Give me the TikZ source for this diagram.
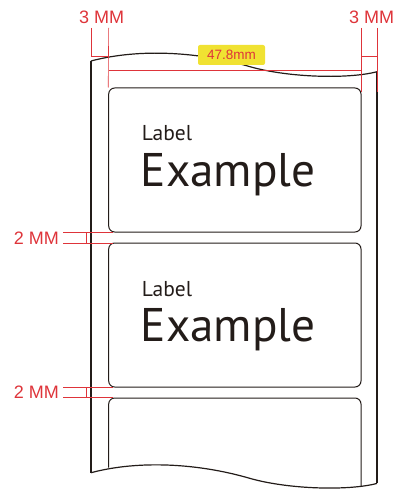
\documentclass[tikz,border=0pt]{standalone}
\usepackage{fontspec}
\setmainfont{PT Sans}
\newfontfamily\dimfont{Liberation Sans}
\definecolor{dimred}{RGB}{222, 52, 58}
\definecolor{tagyellow}{RGB}{240, 226, 50}
\definecolor{ink}{RGB}{35, 28, 25}
\usepackage{tikz}
\usetikzlibrary{positioning, calc}
\tikzset{
    labelbox/.style={rectangle, rounded corners=6pt, draw=ink, line width=1pt, minimum width=252.3pt, minimum height=144pt, inner sep=0pt},
    liner/.style={draw=ink, line width=1.2pt},
    dimline/.style={draw=dimred, line width=0.6pt},
    dimtext/.style={font=\dimfont\fontsize{18}{18}\selectfont, text=dimred, inner sep=0pt},
    small/.style={font=\fontsize{21.5}{21.5}\selectfont, text=ink, inner sep=0pt, anchor=base west},
    big/.style={font=\fontsize{47.2}{47.2}\selectfont, text=ink, inner sep=0pt, anchor=base west},
    tag/.style={rectangle, rounded corners=2pt, fill=tagyellow, text=dimred, font=\dimfont\fontsize{13.5}{13.5}\selectfont, minimum width=67pt, minimum height=20pt, inner sep=0pt}
}
\begin{document}
\begin{tikzpicture}[x=1pt, y=-1pt]
    \useasboundingbox (0,0) rectangle (406,494);
    % liner, torn top and bottom
    \foreach \dy in {0, 411.7} {
        \draw[liner, shift={(0,\dy)}] (91,61) .. controls (140,48) and (200,52) .. (250,66.7)
            .. controls (290,78) and (350,79) .. (377,71.7);
    }
    \draw[liner] (91,61) -- (91,472.7);
    \draw[liner] (377,71.7) -- (377,483.4);
    % labels
    \node[labelbox] (label1) at (234.85,160) {};
    \node[labelbox] (label2) at (234.85,315) {};
    \draw[draw=ink, line width=1pt, rounded corners=6pt] (108.7,467.5) |- (361,398) -- (361,486.7);
    \node[small] (name1) at (141.7,141) {Label};
    \node[big] (text1) at (140.7,186.7) {Example};
    \node[small] (name2) at (141.7,296) {Label};
    \node[big] (text2) at (140.7,341.7) {Example};
    % margins and width
    \draw[dimline] (91,28) -- (91,57);
    \draw[dimline] (108.7,28) -- (label1.north west);
    \draw[dimline] (361,28) -- (361,92);
    \draw[dimline] (377,28) -- (377,92);
    \draw[dimline] (91,56) -- (108.7,56);
    \draw[dimline] (361,56) -- (377,56);
    \draw[dimline] (108.7,70) -- (361,70);
    \node[dimtext] (left) at (101.7,17) {3 MM};
    \node[dimtext] (right) at (371.7,17) {3 MM};
    \node[tag] (width) at (231.5,55) {47.8mm};
    % gaps
    \foreach \y/\g in {232.7/gapa, 387.3/gapb} {
        \draw[dimline] (63,\y) -- (113,\y);
        \draw[dimline] (63,\y+10.3) -- (113,\y+10.3);
        \draw[dimline] (86,\y) -- (86,\y+10.3);
        \node[dimtext, anchor=east] (\g) at (59,\y+5.2) {2 MM};
    }
\end{tikzpicture}
\end{document}
